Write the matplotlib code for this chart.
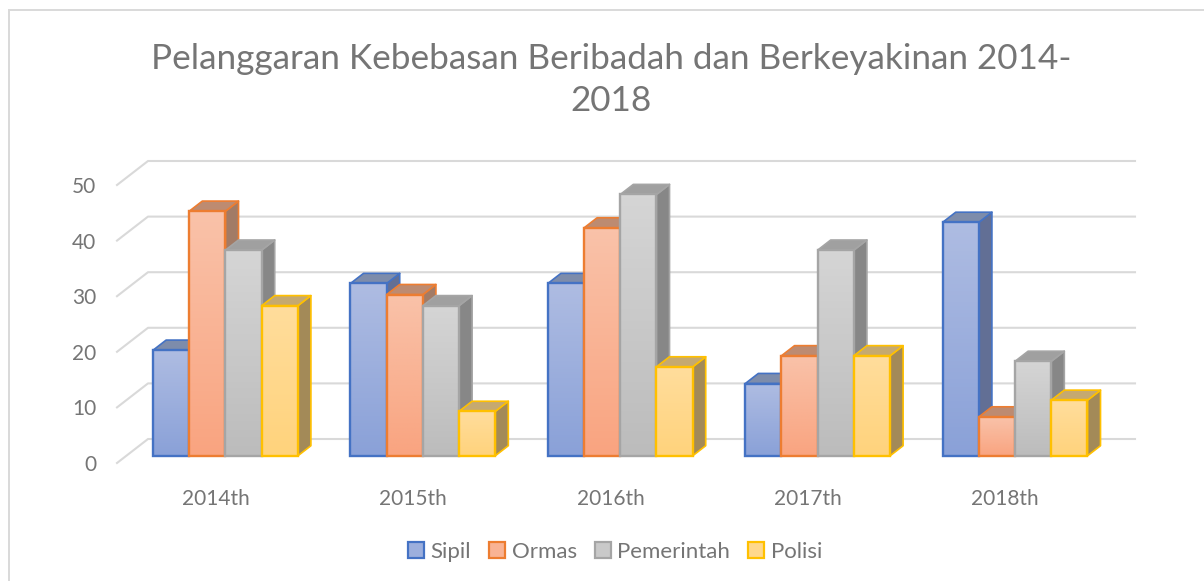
import numpy as np
import matplotlib
matplotlib.use("Agg")
import matplotlib.pyplot as plt
from matplotlib.colors import LinearSegmentedColormap
from matplotlib.patches import Polygon, Rectangle

plt.rcParams['font.family'] = ['Lato', 'DejaVu Sans']

years = ["2014th", "2015th", "2016th", "2017th", "2018th"]
series_names = ["Sipil", "Ormas", "Pemerintah", "Polisi"]
sipil = [19, 31, 31, 13, 42]
ormas = [44, 29, 41, 18, 7]
pemerintah = [37, 27, 47, 37, 17]
polisi = [27, 8, 16, 18, 10]
values = [sipil, ormas, pemerintah, polisi]
yticks = [0, 10, 20, 30, 40, 50]

edge_cols = ["#4472c4", "#ed7d31", "#a5a5a5", "#ffc000"]
top_grad = ["#aebce2", "#f9c2a9", "#d5d5d5", "#ffdd9c"]
bot_grad = ["#8aa1d8", "#f9a480", "#bcbcbc", "#ffd37c"]
roof_cols = ["#7d8cab", "#bd8b71", "#a0a0a0", "#c5a970"]
side_cols = ["#626f95", "#a27b66", "#878787", "#a38a58"]
text_col = "#757575"

W, H = 1204, 581
fig = plt.figure(figsize=(W / 100, H / 100), dpi=100)
ax = fig.add_axes([117 / W, 1 - 463 / H, 987 / W, 278 / H])
ax.set_xlim(-0.5, 4.5)
ax.set_ylim(0, 50)
for s in ax.spines.values():
    s.set_visible(False)

# pixel sizes in data units, the fake 3D is done with these
px_x = 5 / 987
px_y = 50 / 278
floor_dx = 31 * px_x
floor_dy = 24 * px_y
front = 0.30
depth = 0.42
bar_w = 36.2 * px_x

# back wall gridlines + the diagonal on the left
x0, x1 = -0.5, 4.5
for v in yticks:
    ax.plot([x0, x0 + floor_dx, x1 + floor_dx], [v, v + floor_dy, v + floor_dy],
            color="#d9d9d9", lw=1.5, clip_on=False, zorder=1)

ox = 0.316 * floor_dx
oy = front * floor_dy
dx = depth * floor_dx
dy = depth * floor_dy

z = 2
for i in range(len(years)):
    for j, name in enumerate(series_names):
        left = i - 2 * bar_w + j * bar_w + ox
        right = left + bar_w
        bottom = oy
        top = values[j][i] + oy
        ec = edge_cols[j]
        side = [(right, bottom), (right + dx, bottom + dy), (right + dx, top + dy), (right, top)]
        roof = [(left, top), (left + dx, top + dy), (right + dx, top + dy), (right, top)]
        ax.add_patch(Polygon(side, fc=side_cols[j], ec=ec, lw=1.2, clip_on=False, zorder=z, joinstyle="round"))
        ax.add_patch(Polygon(roof, fc=roof_cols[j], ec=ec, lw=1.2, clip_on=False, zorder=z, joinstyle="round"))
        cmap = LinearSegmentedColormap.from_list("g", [top_grad[j], bot_grad[j]])
        ax.imshow(np.linspace(0, 1, 64).reshape(-1, 1), cmap=cmap, aspect="auto",
                  extent=(left, right, bottom, top), origin="upper", clip_on=False, zorder=z + 0.1)
        ax.add_patch(Rectangle((left, bottom), bar_w, top - bottom, fc="none", ec=ec, lw=1.7,
                               clip_on=False, zorder=z + 0.2))
        z += 1
ax.set_xlim(-0.5, 4.5)
ax.set_ylim(0, 50)

ax.set_xticks(range(5))
ax.set_xticklabels(years)
ax.set_yticks(yticks)
ax.tick_params(axis="x", length=0, pad=19, labelsize=15, labelcolor=text_col)
ax.tick_params(axis="y", length=0, pad=15, labelsize=15, labelcolor=text_col)

fig.text(611 / W, 1 - 80 / H, "Pelanggaran Kebebasan Beribadah dan Berkeyakinan 2014-\n2018",
         ha="center", va="center", fontsize=25.3, color="#757575", linespacing=1.4)

handles = [Rectangle((0, 0), 1, 1, fc=m, ec=e, lw=1.6)
           for m, e in zip(["#9cafdd", "#f9b394", "#c9c9c9", "#ffd88c"], edge_cols)]
fig.legend(handles, series_names, ncol=4, loc="center", bbox_to_anchor=(615 / W, 1 - 552 / H),
           frameon=False, fontsize=16, labelcolor=text_col, handlelength=0.72, handleheight=0.72,
           handletextpad=0.3, columnspacing=0.8)

# chart border, runs off the right and bottom of the picture
fig.add_artist(Rectangle((9 / W, -0.01), 1.1, 1 - 10 / H + 0.01, transform=fig.transFigure,
                         fc="none", ec="#d9d9d9", lw=1.4, zorder=0))

fig.savefig("out.png", dpi=100)
